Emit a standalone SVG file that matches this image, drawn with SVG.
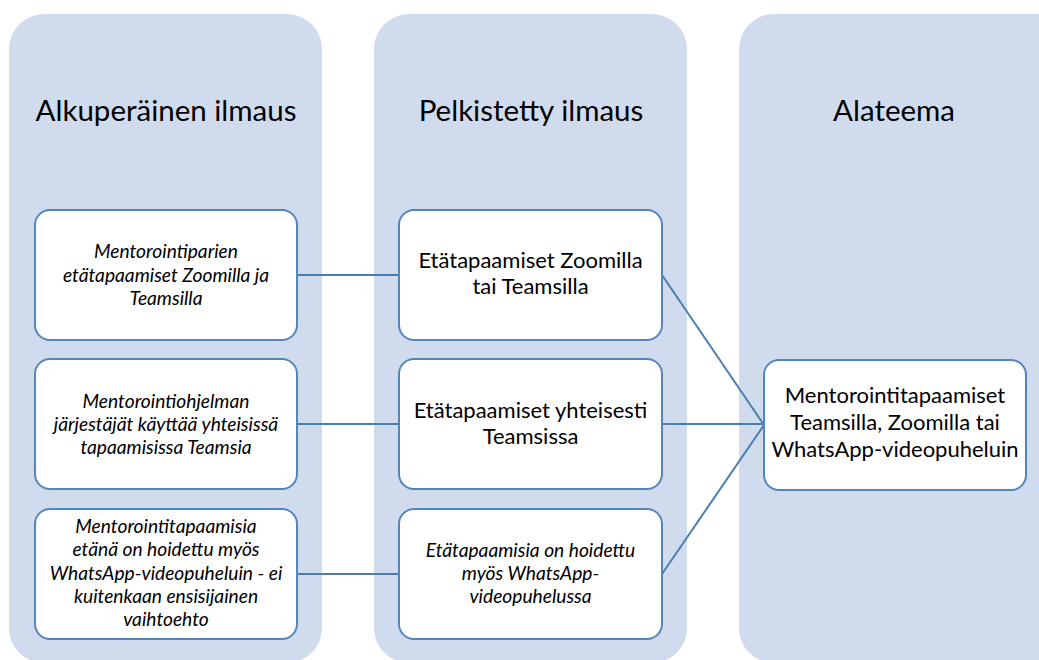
<svg xmlns="http://www.w3.org/2000/svg" width="1039" height="660" viewBox="0 0 1039 660">
<style>
.panel{fill:#D0DCEE}
.box{fill:#FFFFFF;stroke:#5585BD;stroke-width:2}
.hdr{font-family:Lato,"Open Sans",sans-serif;font-size:29.5px;fill:#000;text-anchor:middle}
.it{font-family:Lato,"Open Sans",sans-serif;font-size:19.2px;font-style:italic;fill:#000;text-anchor:middle}
.rg{font-family:Lato,"Open Sans",sans-serif;font-size:22px;fill:#000;text-anchor:middle}
.ln{stroke:#4A7DB1;stroke-width:2;fill:none}
</style>
<rect width="1039" height="660" fill="#FFFFFF"/>
<g id="panel-1"><rect class="panel" x="9" y="14" width="313" height="649" rx="35"/><text class="hdr" x="166" y="121">Alkuperäinen ilmaus</text></g>
<g id="panel-2"><rect class="panel" x="374" y="14" width="313" height="649" rx="35"/><text class="hdr" x="531" y="121">Pelkistetty ilmaus</text></g>
<g id="panel-3"><rect class="panel" x="739" y="14" width="350" height="649" rx="35"/><text class="hdr" x="894" y="121">Alateema</text></g>
<g id="connectors">
<line class="ln" x1="297" y1="275" x2="399" y2="275"/>
<line class="ln" x1="297" y1="424" x2="399" y2="424"/>
<line class="ln" x1="297" y1="574" x2="399" y2="574"/>
<line class="ln" x1="662" y1="275" x2="764" y2="425"/>
<line class="ln" x1="662" y1="424" x2="764" y2="424"/>
<line class="ln" x1="662" y1="574" x2="764" y2="425"/>
</g>
<g id="n-a1"><rect class="box" x="35" y="210" width="262" height="130" rx="15"/>
<text class="it" x="166" y="258">Mentorointiparien</text><text class="it" x="166" y="282">etätapaamiset Zoomilla ja</text><text class="it" x="166" y="305">Teamsilla</text></g>
<g id="n-a2"><rect class="box" x="35" y="359" width="262" height="130" rx="15"/>
<text class="it" x="166" y="408">Mentorointiohjelman</text><text class="it" x="166" y="431">järjestäjät käyttää yhteisissä</text><text class="it" x="166" y="454">tapaamisissa Teamsia</text></g>
<g id="n-a3"><rect class="box" x="35" y="509" width="262" height="130" rx="15"/>
<text class="it" x="166" y="533">Mentorointitapaamisia</text><text class="it" x="166" y="556">etänä on hoidettu myös</text><text class="it" x="166" y="580">WhatsApp-videopuheluin - ei</text><text class="it" x="166" y="603">kuitenkaan ensisijainen</text><text class="it" x="166" y="626">vaihtoehto</text></g>
<g id="n-b1"><rect class="box" x="399" y="210" width="263" height="130" rx="15"/>
<text class="rg" x="530.5" y="268">Etätapaamiset Zoomilla</text><text class="rg" x="530.5" y="294">tai Teamsilla</text></g>
<g id="n-b2"><rect class="box" x="399" y="359" width="263" height="130" rx="15"/>
<text class="rg" x="530.5" y="418">Etätapaamiset yhteisesti</text><text class="rg" x="530.5" y="444">Teamsissa</text></g>
<g id="n-b3"><rect class="box" x="399" y="509" width="263" height="130" rx="15"/>
<text class="it" x="530.5" y="557">Etätapaamisia on hoidettu</text><text class="it" x="530.5" y="580">myös WhatsApp-</text><text class="it" x="530.5" y="603">videopuhelussa</text></g>
<g id="n-c1"><rect class="box" x="764" y="360" width="262" height="130" rx="15"/>
<text class="rg" x="895" y="403">Mentorointitapaamiset</text><text class="rg" x="895" y="430">Teamsilla, Zoomilla tai</text><text class="rg" x="895" y="457">WhatsApp-videopuheluin</text></g>
</svg>
